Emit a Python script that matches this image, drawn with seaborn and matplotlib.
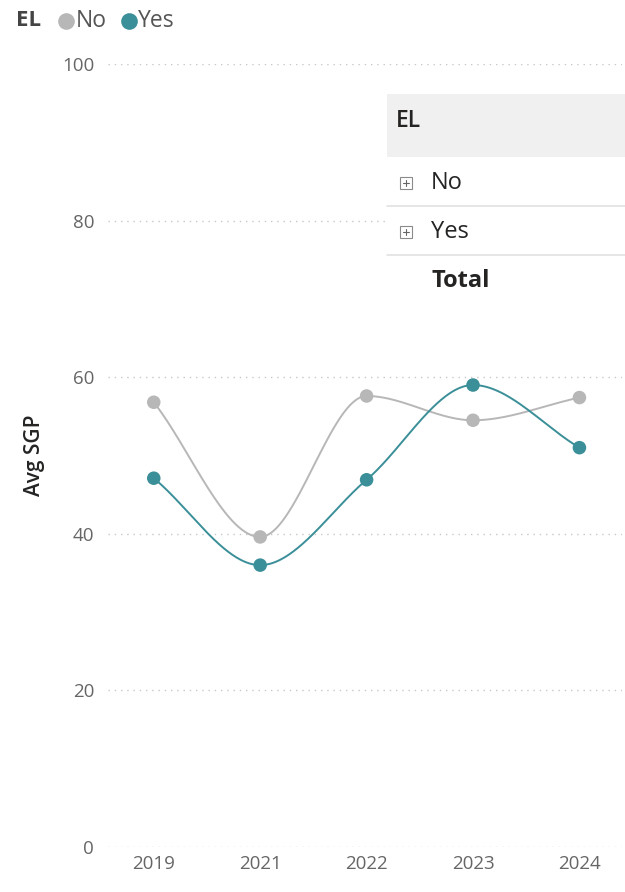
import numpy as np
import pandas as pd
import matplotlib
matplotlib.use("Agg")
import matplotlib.pyplot as plt
from matplotlib.patches import Rectangle
from matplotlib.lines import Line2D
import seaborn as sns

# Average SGP by year and EL status
years = ["2019", "2021", "2022", "2023", "2024"]
el_no = [56.8, 39.6, 57.6, 54.5, 57.4]
el_yes = [47.1, 36.0, 46.9, 59.0, 51.0]
groups = ["No", "Yes"]
y_ticks = [0, 20, 40, 60, 80, 100]

colors = {"No": "#b7b7b7", "Yes": "#3a8f98"}
tick_color = "#666666"

sns.set_theme(style="white")
plt.rcParams["font.family"] = ["Open Sans", "DejaVu Sans"]

W, H = 625, 892
fig = plt.figure(figsize=(W / 100, H / 100), dpi=100)
ax = fig.add_axes([108 / W, 1 - 847 / H, (622 - 108) / W, (847 - 64) / H])

points = pd.DataFrame({
    "pos": list(range(len(years))) * 2,
    "year": years * 2,
    "value": el_no + el_yes,
    "EL": ["No"] * len(years) + ["Yes"] * len(years),
})


def pchip(x, y, xs):
    """Monotone cubic Hermite interpolation for a smooth line through the points."""
    x = np.asarray(x, float)
    y = np.asarray(y, float)
    h = np.diff(x)
    d = np.diff(y) / h
    m = np.zeros_like(y)
    for k in range(1, len(y) - 1):
        if d[k - 1] * d[k] > 0:
            w1 = 2 * h[k] + h[k - 1]
            w2 = h[k] + 2 * h[k - 1]
            m[k] = (w1 + w2) / (w1 / d[k - 1] + w2 / d[k])
    m[0] = d[0]
    m[-1] = d[-1]
    idx = np.clip(np.searchsorted(x, xs) - 1, 0, len(x) - 2)
    t = (xs - x[idx]) / h[idx]
    h00 = 2 * t**3 - 3 * t**2 + 1
    h10 = t**3 - 2 * t**2 + t
    h01 = -2 * t**3 + 3 * t**2
    h11 = t**3 - t**2
    return (h00 * y[idx] + h10 * h[idx] * m[idx]
            + h01 * y[idx + 1] + h11 * h[idx] * m[idx + 1])


curves = []
for g in groups:
    sub = points[points["EL"] == g]
    xs = np.linspace(0, len(years) - 1, 300)
    curves.append(pd.DataFrame({"pos": xs,
                                "value": pchip(sub["pos"], sub["value"], xs),
                                "EL": g}))
curves = pd.concat(curves, ignore_index=True)

# dotted horizontal gridlines
for t in y_ticks:
    ax.axhline(t, color="#c8c8c8", lw=1.0, ls=(0, (1, 3.5)), zorder=0)

sns.lineplot(data=curves, x="pos", y="value", hue="EL", palette=colors,
             hue_order=groups, lw=1.4, legend=False, ax=ax, zorder=2)
sns.scatterplot(data=points, x="pos", y="value", hue="EL", palette=colors,
                hue_order=groups, s=95, edgecolor="none", legend=False,
                ax=ax, zorder=3)

ax.set_xlim(-0.43, 4.4)
ax.set_ylim(0, 100)
ax.set_xticks(range(len(years)))
ax.set_xticklabels(years)
ax.set_yticks(y_ticks)
ax.tick_params(axis="both", length=0, colors=tick_color, labelsize=13.5)
ax.tick_params(axis="y", pad=10)
ax.tick_params(axis="x", pad=6)
for s in ax.spines.values():
    s.set_visible(False)
ax.set_xlabel("")
ax.set_ylabel("Avg SGP", fontsize=15, color="#252423", fontweight="semibold",
              labelpad=12)

# legend row at the top
ly = 1 - 21 / H
fig.text(16 / W, ly, "EL", fontsize=16, fontweight="bold",
         color="#444444", va="center", ha="left")
fig.add_artist(Line2D([65.5 / W], [ly], marker="o", markersize=12,
                      color=colors["No"], markeredgewidth=0,
                      transform=fig.transFigure))
fig.text(76 / W, ly, "No", fontsize=16.5, color="#555555",
         va="center", ha="left")
fig.add_artist(Line2D([128.5 / W], [ly], marker="o", markersize=12,
                      color=colors["Yes"], markeredgewidth=0,
                      transform=fig.transFigure))
fig.text(138 / W, ly, "Yes", fontsize=16.5, color="#555555",
         va="center", ha="left")

# matrix visual overlaid on the chart
tx0 = 387 / W
fig.add_artist(Rectangle((tx0, 1 - 300 / H), 1 - tx0, (300 - 94) / H,
                         transform=fig.transFigure, facecolor="white",
                         edgecolor="none", zorder=5))
fig.add_artist(Rectangle((tx0, 1 - 157 / H), 1 - tx0, (157 - 94) / H,
                         transform=fig.transFigure, facecolor="#f0f0f0",
                         edgecolor="none", zorder=6))
fig.text(396 / W, 1 - 121 / H, "EL", fontsize=16.5, fontweight="semibold",
         color="#252423", va="center", ha="left", zorder=7)
for ysep in (206, 255):
    fig.add_artist(Line2D([tx0, 1], [1 - ysep / H, 1 - ysep / H],
                          color="#e1e1e1", lw=1.2,
                          transform=fig.transFigure, zorder=7))
for yrow, label in ((183, "No"), (232, "Yes")):
    fig.add_artist(Rectangle((399.5 / W, 1 - (yrow + 6) / H), 12 / W, 12 / H,
                             transform=fig.transFigure, facecolor="none",
                             edgecolor="#8a8a8a", lw=0.8, zorder=7))
    fig.add_artist(Line2D([402.5 / W, 408.5 / W], [1 - yrow / H] * 2,
                          color="#666666", lw=0.8,
                          transform=fig.transFigure, zorder=8))
    fig.add_artist(Line2D([405.5 / W] * 2, [1 - (yrow - 3) / H, 1 - (yrow + 3) / H],
                          color="#666666", lw=0.8,
                          transform=fig.transFigure, zorder=8))
    fig.text(431 / W, 1 - yrow / H, label, fontsize=17, color="#252423",
             va="center", ha="left", zorder=7)
fig.text(431 / W, 1 - 281 / H, "Total", fontsize=17, fontweight="bold",
         color="#252423", va="center", ha="left", zorder=7)

fig.savefig("out.png", dpi=100, facecolor="white")
